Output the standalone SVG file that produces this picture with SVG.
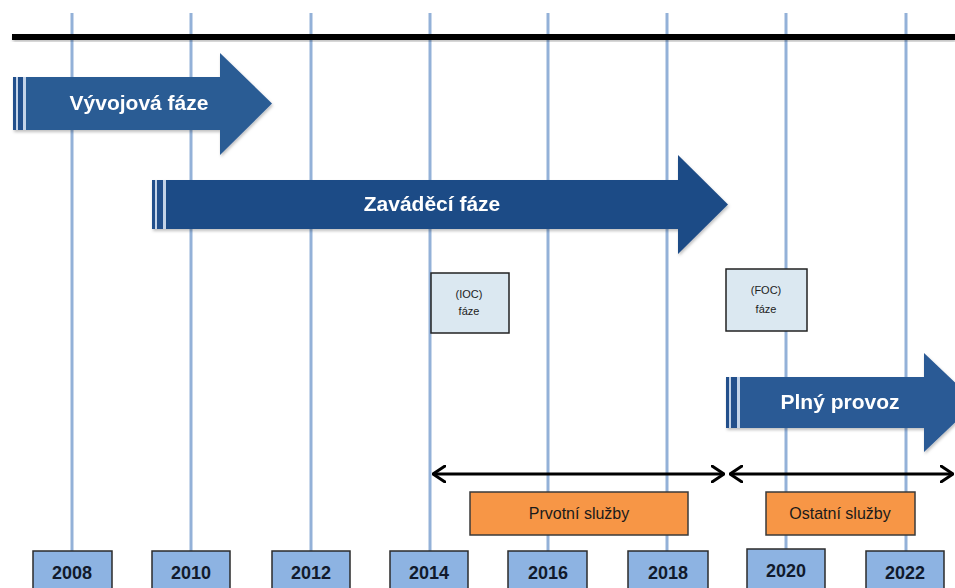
<svg xmlns="http://www.w3.org/2000/svg" width="955" height="588" viewBox="0 0 955 588">
  <defs>
    <style>
      .grid { stroke: #93b1d8; stroke-width: 3; fill: none; }
      .axis { fill: #000; }
      .phase-body { fill: #22508b; }
      .phase-gap { fill: #c3d3e8; }
      .phase-label { font-family: "Liberation Sans", Arial, sans-serif; font-weight: bold; font-size: 21px; fill: #fff; text-anchor: middle; }
      .year-box { fill: #8db3e2; stroke: #2b2b2b; stroke-width: 1.5; }
      .year-label { font-family: "Liberation Sans", Arial, sans-serif; font-weight: bold; font-size: 18px; fill: #111a2c; text-anchor: middle; }
      .cap-box { fill: #dbe8f1; stroke: #222; stroke-width: 1.5; }
      .cap-label { font-family: "Liberation Sans", Arial, sans-serif; font-size: 11px; fill: #222; text-anchor: middle; }
      .svc-box { fill: #f79646; stroke: #3a3a3a; stroke-width: 1.5; }
      .svc-label { font-family: "Liberation Sans", Arial, sans-serif; font-size: 16px; fill: #1a1a1a; text-anchor: middle; }
      .span { stroke: #000; stroke-width: 3; fill: none; }
    </style>
    <marker id="chev-end" viewBox="0 0 14 18" refX="13" refY="9" markerWidth="14" markerHeight="18" markerUnits="userSpaceOnUse" orient="auto">
      <path d="M1,1 L13,9 L1,17" fill="none" stroke="#000" stroke-width="3" stroke-linecap="round" stroke-linejoin="round"/>
    </marker>
    <marker id="chev-start" viewBox="0 0 14 18" refX="1" refY="9" markerWidth="14" markerHeight="18" markerUnits="userSpaceOnUse" orient="auto">
      <path d="M13,1 L1,9 L13,17" fill="none" stroke="#000" stroke-width="3" stroke-linecap="round" stroke-linejoin="round"/>
    </marker>
    <filter id="soft" x="-5%" y="-20%" width="110%" height="150%">
      <feDropShadow dx="1" dy="2" stdDeviation="1.5" flood-color="#000" flood-opacity="0.25"/>
    </filter>
  </defs>

  <rect width="955" height="588" fill="#fff"/>

  <!-- year grid lines -->
  <g id="grid">
    <line class="grid" x1="72" y1="13" x2="72" y2="551"/>
    <line class="grid" x1="191" y1="13" x2="191" y2="551"/>
    <line class="grid" x1="311" y1="13" x2="311" y2="551"/>
    <line class="grid" x1="430" y1="13" x2="430" y2="551"/>
    <line class="grid" x1="548" y1="13" x2="548" y2="551"/>
    <line class="grid" x1="667" y1="13" x2="667" y2="551"/>
    <line class="grid" x1="786" y1="13" x2="786" y2="549"/>
    <line class="grid" x1="906" y1="13" x2="906" y2="551"/>
  </g>

  <!-- timeline axis -->
  <g id="axis">
    <rect class="axis" x="12" y="34" width="943" height="6" filter="url(#soft)"/>
  </g>

  <!-- phase arrows -->
  <g id="phase-development" filter="url(#soft)">
    <rect class="phase-gap" x="13" y="77" width="15" height="53"/>
    <rect class="phase-body" x="13" y="77" width="3" height="53"/>
    <rect class="phase-body" x="18" y="77" width="5" height="53"/>
    <polygon class="phase-body" points="26,77 220,77 220,53 272,103.5 220,155 220,130 26,130" style="fill:#2b5b94"/>
    <text class="phase-label" x="139" y="110">Vývojová fáze</text>
  </g>

  <g id="phase-deployment" filter="url(#soft)">
    <rect class="phase-gap" x="152" y="180" width="15" height="49"/>
    <rect class="phase-body" x="152" y="180" width="3" height="49"/>
    <rect class="phase-body" x="157" y="180" width="6" height="49"/>
    <polygon class="phase-body" points="166,180 678,180 678,155 728,204.5 678,254 678,229 166,229" style="fill:#1f4c86"/>
    <text class="phase-label" x="432" y="211">Zaváděcí fáze</text>
  </g>

  <g id="phase-operation" filter="url(#soft)">
    <rect class="phase-gap" x="726" y="377" width="15" height="51"/>
    <rect class="phase-body" x="726" y="377" width="3" height="51"/>
    <rect class="phase-body" x="731" y="377" width="6" height="51"/>
    <polygon class="phase-body" points="740,377 924,377 924,353 976,402.5 924,452 924,428 740,428" style="fill:#2a5a95"/>
    <text class="phase-label" x="840" y="409">Plný provoz</text>
  </g>

  <!-- capability milestones -->
  <g id="ioc">
    <rect class="cap-box" x="431" y="273" width="78" height="60"/>
    <text class="cap-label" x="469" y="298">(IOC)</text>
    <text class="cap-label" x="469" y="315">fáze</text>
  </g>
  <g id="foc">
    <rect class="cap-box" x="726" y="269" width="81" height="62"/>
    <text class="cap-label" x="766" y="294">(FOC)</text>
    <text class="cap-label" x="766" y="313">fáze</text>
  </g>

  <!-- service spans -->
  <g id="connectors">
    <line class="span" x1="433" y1="474" x2="724" y2="474" marker-start="url(#chev-start)" marker-end="url(#chev-end)"/>
    <line class="span" x1="730" y1="474" x2="953" y2="474" marker-start="url(#chev-start)" marker-end="url(#chev-end)"/>
  </g>

  <g id="svc-initial">
    <rect class="svc-box" x="470" y="492" width="218" height="43"/>
    <text class="svc-label" x="579" y="519">Prvotní služby</text>
  </g>
  <g id="svc-other">
    <rect class="svc-box" x="766" y="492" width="149" height="43"/>
    <text class="svc-label" x="840" y="519">Ostatní služby</text>
  </g>

  <!-- year labels -->
  <g id="y2008"><rect class="year-box" x="33" y="551" width="79" height="45"/><text class="year-label" x="72" y="579">2008</text></g>
  <g id="y2010"><rect class="year-box" x="152" y="551" width="78" height="45"/><text class="year-label" x="191" y="579">2010</text></g>
  <g id="y2012"><rect class="year-box" x="272" y="551" width="78" height="45"/><text class="year-label" x="311" y="579">2012</text></g>
  <g id="y2014"><rect class="year-box" x="390" y="551" width="78" height="45"/><text class="year-label" x="429" y="579">2014</text></g>
  <g id="y2016"><rect class="year-box" x="508" y="551" width="79" height="45"/><text class="year-label" x="548" y="579">2016</text></g>
  <g id="y2018"><rect class="year-box" x="628" y="551" width="80" height="45"/><text class="year-label" x="668" y="579">2018</text></g>
  <g id="y2020"><rect class="year-box" x="747" y="549" width="78" height="47"/><text class="year-label" x="786" y="577">2020</text></g>
  <g id="y2022"><rect class="year-box" x="866" y="551" width="78" height="45"/><text class="year-label" x="905" y="579">2022</text></g>
</svg>
